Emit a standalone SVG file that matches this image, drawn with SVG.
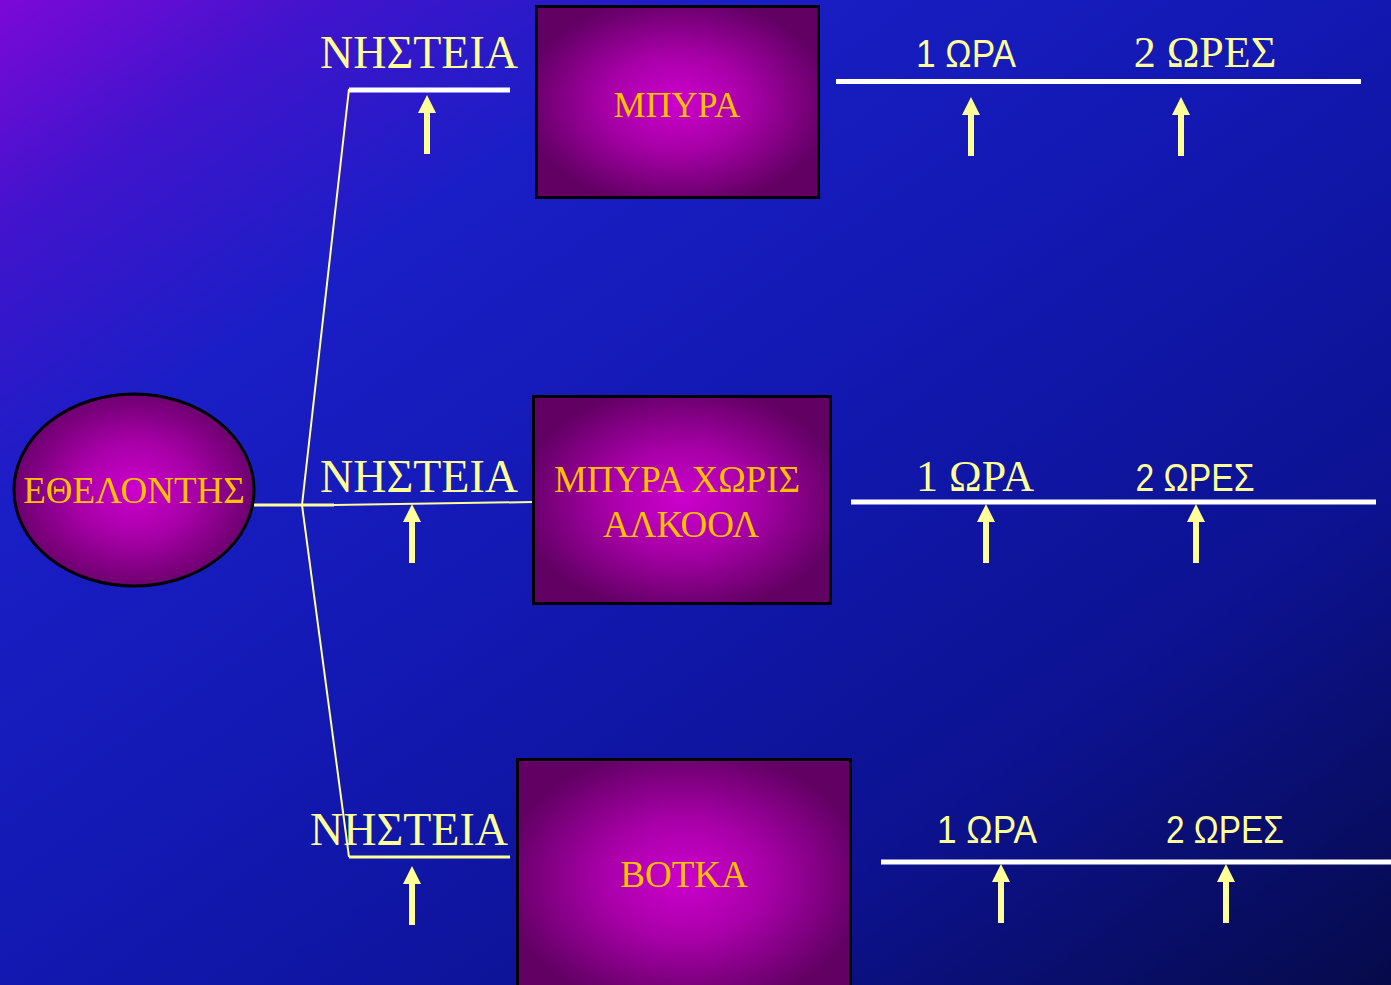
<svg xmlns="http://www.w3.org/2000/svg" xmlns:xlink="http://www.w3.org/1999/xlink" width="1391" height="985" viewBox="0 0 1391 985">
<defs>
<linearGradient id="bg" x1="0" y1="0" x2="1" y2="1">
<stop offset="0" stop-color="#7c08d8"/>
<stop offset="0.12" stop-color="#4014cc"/>
<stop offset="0.26" stop-color="#1a1ec6"/>
<stop offset="0.5" stop-color="#1218b0"/>
<stop offset="0.75" stop-color="#0c1290"/>
<stop offset="1" stop-color="#060a4a"/>
</linearGradient>
<radialGradient id="node" cx="0.5" cy="0.5" r="0.55">
<stop offset="0" stop-color="#cc00cc"/>
<stop offset="0.45" stop-color="#a800a8"/>
<stop offset="1" stop-color="#620064"/>
</radialGradient>
<path id="arr" d="M0,0 L9,18 L3,18 L3,59 L-3,59 L-3,18 L-9,18 Z"/>
<style>
.node{fill:url(#node);stroke:#000;stroke-width:3}
.nt{font-family:"Liberation Serif","Times New Roman",serif;fill:#ffc000;text-anchor:middle}
.lbl{font-family:"Liberation Serif","Times New Roman",serif;fill:#ffff99;text-anchor:middle}
.sans{font-family:"Liberation Sans",Arial,sans-serif;fill:#ffff99;text-anchor:middle;font-size:39px}
.ar{fill:#ffff99}
.wl{stroke:#ffffff;stroke-width:5;fill:none}
.yl{stroke:#ffff99;fill:none}
</style>
</defs>
<rect x="0" y="0" width="1391" height="985" fill="url(#bg)"/>

<g id="connectors">
<line class="yl" x1="254" y1="505" x2="334" y2="505" stroke-width="3"/>
<line class="yl" x1="334" y1="505" x2="533" y2="502" stroke-width="2"/>
<line class="yl" x1="302" y1="505" x2="349" y2="89" stroke-width="2"/>
<line class="yl" x1="302" y1="505" x2="349" y2="857" stroke-width="2"/>
<line class="wl" x1="349" y1="90" x2="510" y2="90"/>
<line class="yl" x1="349" y1="857" x2="510" y2="857" stroke-width="3"/>
<line class="wl" x1="836" y1="81.5" x2="1361" y2="81.5"/>
<line class="wl" x1="851" y1="502" x2="1376" y2="502"/>
<line class="wl" x1="881" y1="862" x2="1391" y2="862"/>
<use href="#arr" class="ar" x="427" y="95"/>
<use href="#arr" class="ar" x="412" y="504"/>
<use href="#arr" class="ar" x="412" y="866"/>
<use href="#arr" class="ar" x="971" y="97"/>
<use href="#arr" class="ar" x="1181" y="97"/>
<use href="#arr" class="ar" x="986" y="504"/>
<use href="#arr" class="ar" x="1196" y="504"/>
<use href="#arr" class="ar" x="1001" y="864"/>
<use href="#arr" class="ar" x="1226" y="864"/>
</g>

<g id="volunteers">
<ellipse class="node" cx="134" cy="490" rx="120" ry="96" stroke-width="2"/>
<text class="nt" x="134" y="503" font-size="37">ΕΘΕΛΟΝΤΗΣ</text>
</g>

<g id="beer">
<rect class="node" x="536.5" y="6.5" width="282" height="191"/>
<text class="nt" x="677" y="117" font-size="36">ΜΠΥΡΑ</text>
</g>

<g id="beer-noalcohol">
<rect class="node" x="533.5" y="396.5" width="297" height="207"/>
<text class="nt" x="677" y="492" font-size="37">ΜΠΥΡΑ ΧΩΡΙΣ</text>
<text class="nt" x="681" y="537" font-size="37">ΑΛΚΟΟΛ</text>
</g>

<g id="vodka">
<rect class="node" x="517.5" y="759.5" width="333" height="240"/>
<text class="nt" x="684" y="887" font-size="37">ΒΟΤΚΑ</text>
</g>

<g id="labels">
<text class="lbl" x="419" y="68" font-size="46">ΝΗΣΤΕΙΑ</text>
<text class="lbl" x="419" y="492" font-size="46">ΝΗΣΤΕΙΑ</text>
<text class="lbl" x="409" y="845" font-size="46">ΝΗΣΤΕΙΑ</text>
<text class="sans" x="966" y="67" textLength="100" lengthAdjust="spacingAndGlyphs">1 ΩΡΑ</text>
<text class="lbl" x="1205" y="67" font-size="44">2 ΩΡΕΣ</text>
<text class="lbl" x="975" y="491" font-size="44">1 ΩΡΑ</text>
<text class="sans" x="1195" y="491" textLength="119" lengthAdjust="spacingAndGlyphs">2 ΩΡΕΣ</text>
<text class="sans" x="987" y="843" textLength="100" lengthAdjust="spacingAndGlyphs">1 ΩΡΑ</text>
<text class="sans" x="1225" y="843" textLength="118" lengthAdjust="spacingAndGlyphs">2 ΩΡΕΣ</text>
</g>
</svg>
